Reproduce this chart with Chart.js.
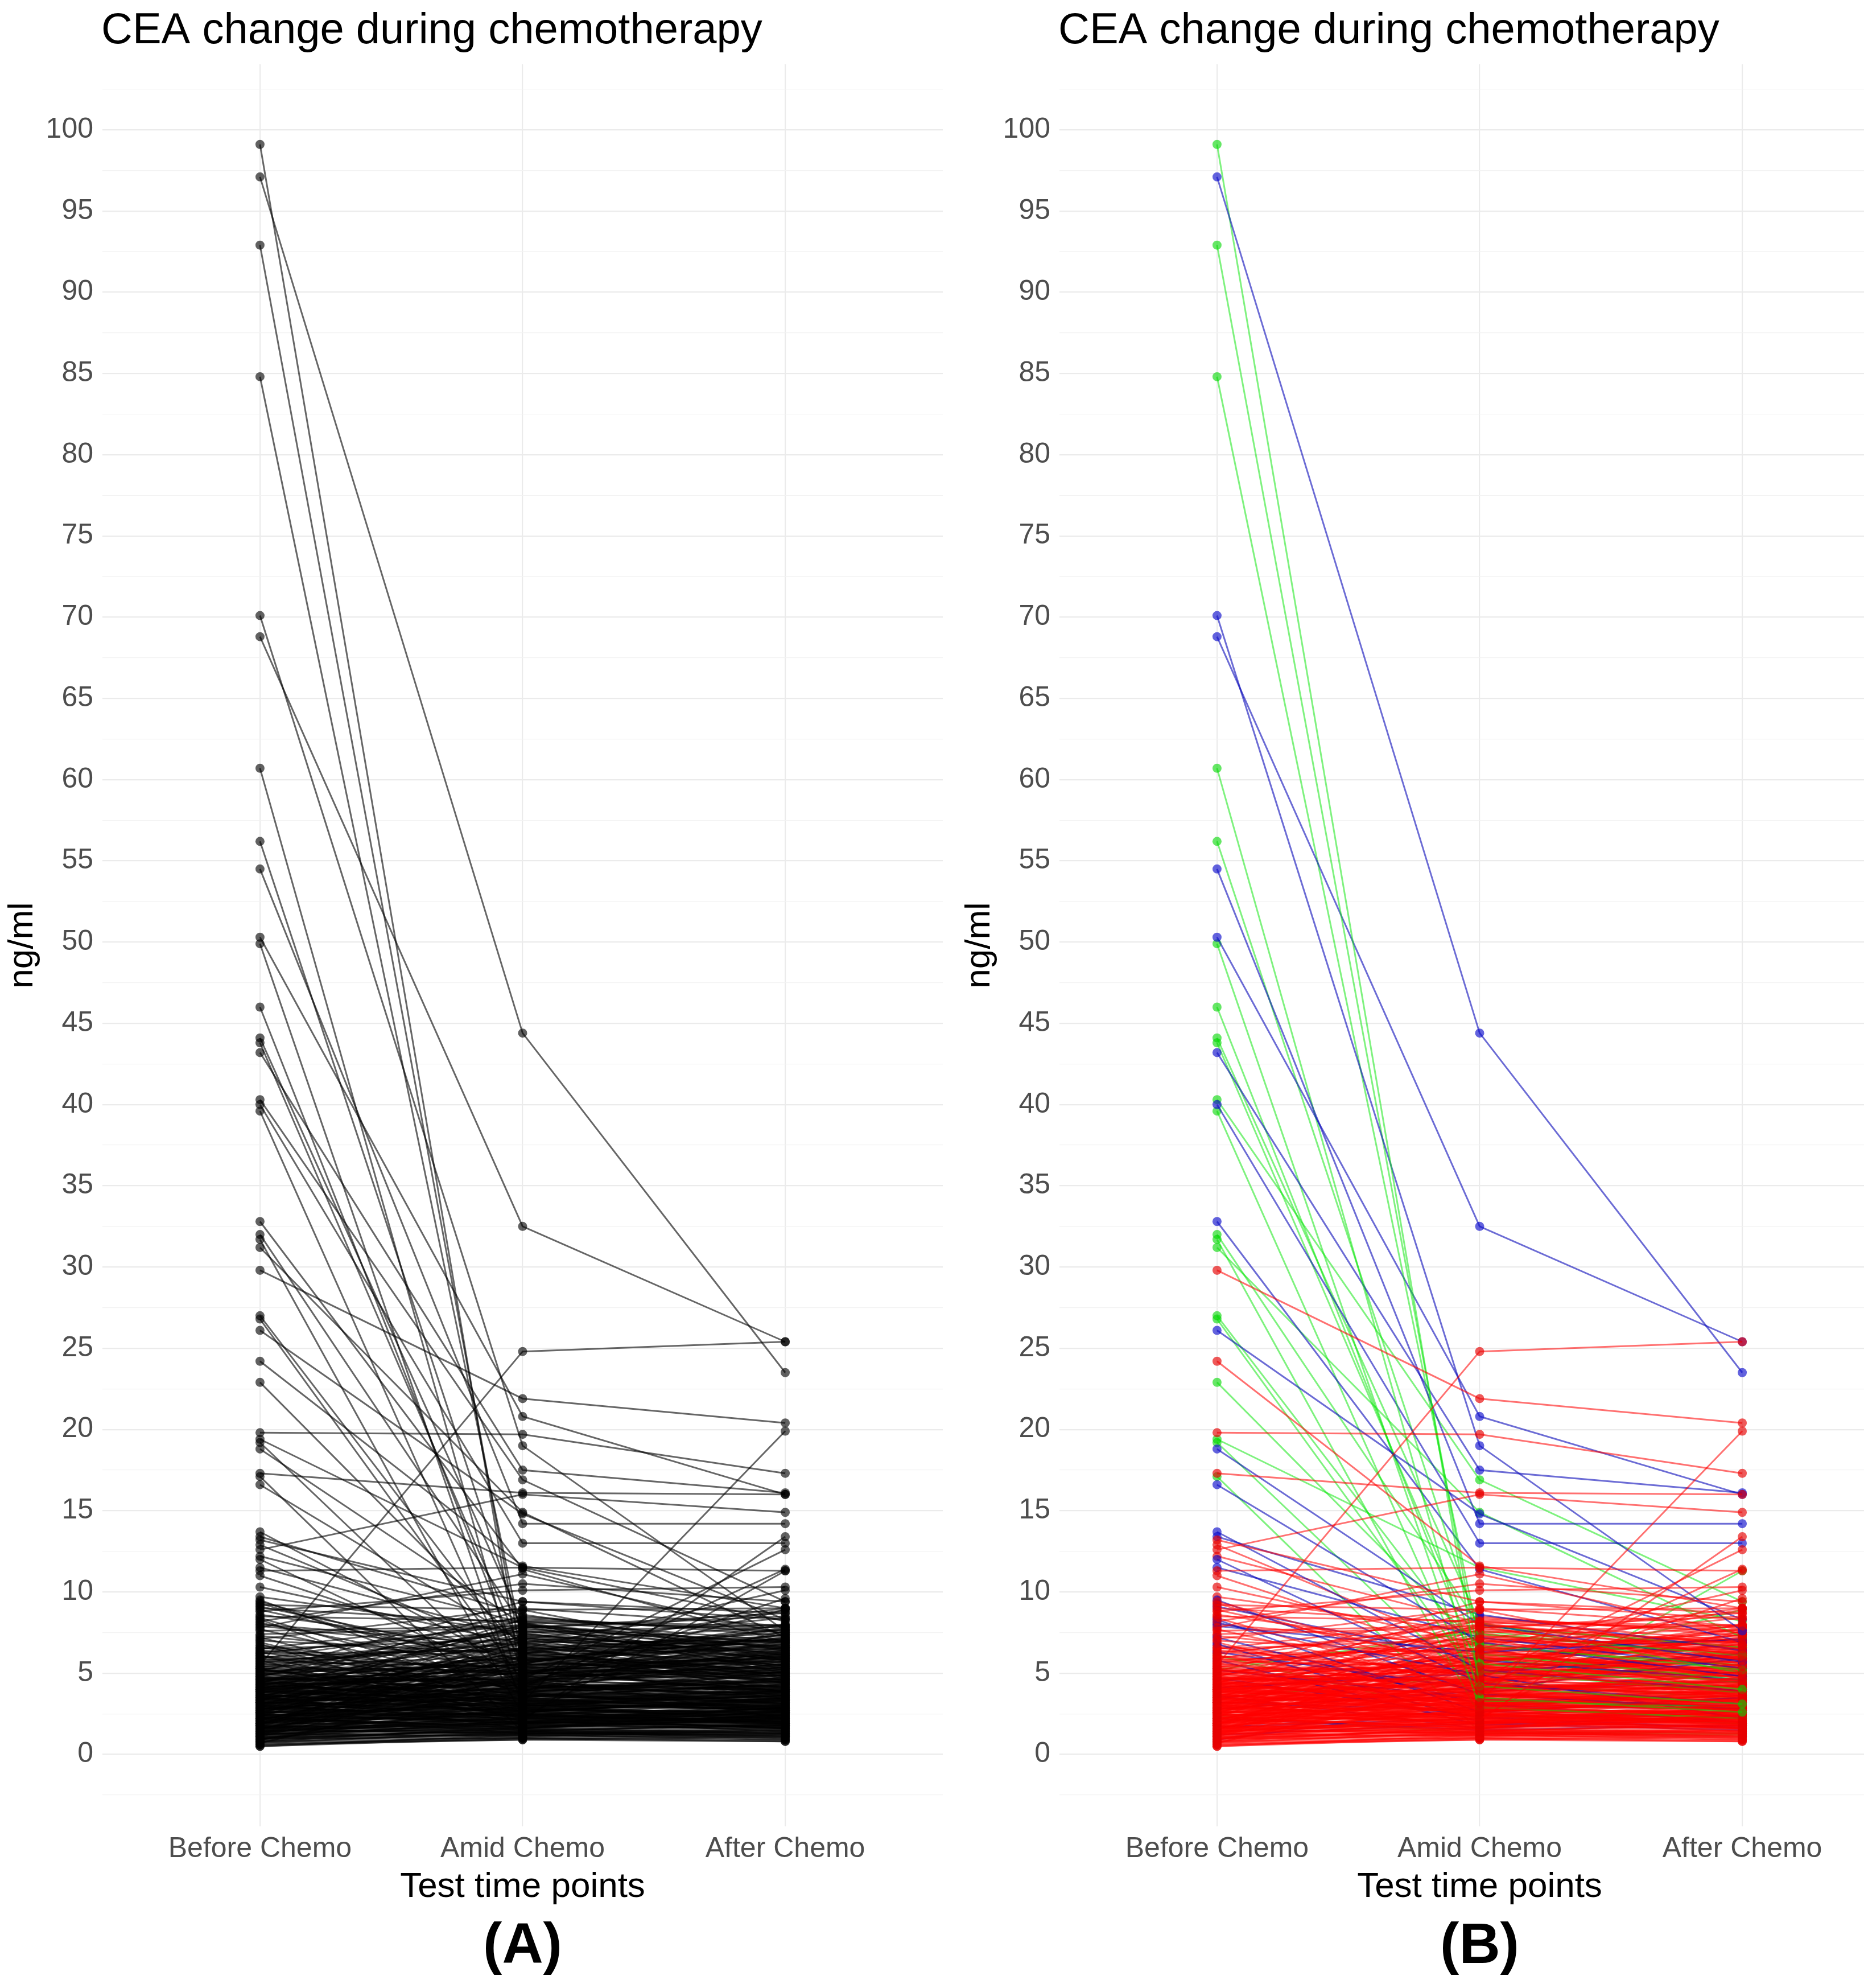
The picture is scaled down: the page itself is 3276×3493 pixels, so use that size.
<!DOCTYPE html>
<html>
<head>
<meta charset="utf-8">
<title>CEA change during chemotherapy</title>
<script src="https://cdn.jsdelivr.net/npm/chart.js@4.4.0/dist/chart.umd.min.js"></script>
<style>
  html, body { margin: 0; padding: 0; background: #fff; width: 3276px; height: 3493px; overflow: hidden; position: relative; }
  canvas { position: absolute; top: 0; }
  #panelA { left: 0; }
  #panelB { left: 1682px; }
</style>
</head>
<body>
<canvas id="panelA" width="1676" height="3493"></canvas>
<canvas id="panelB" width="1676" height="3493"></canvas>
<script>
const timePoints = ['Before Chemo', 'Amid Chemo', 'After Chemo'];

// y grid every 2.5, labels on the multiples of 5
const yTicks = [-2.5, 0, 2.5, 5, 7.5, 10, 12.5, 15, 17.5, 20, 22.5, 25, 27.5, 30, 32.5, 35, 37.5, 40,
  42.5, 45, 47.5, 50, 52.5, 55, 57.5, 60, 62.5, 65, 67.5, 70, 72.5, 75, 77.5, 80, 82.5, 85, 87.5,
  90, 92.5, 95, 97.5, 100, 102.5];

// [before, amid, after] in ng/ml, one row per patient
const greenPatients = [
  [99.1, 4.2, 3.1], [92.9, 5.6, 4.0], [84.8, 6.8, 5.2], [60.7, 3.5, 2.6], [56.2, 7.4, 6.1],
  [49.9, 2.9, 2.2], [46.0, 5.1, 3.8], [44.1, 8.1, 5.0], [43.8, 6.2, 4.6], [40.3, 16.9, 9.4],
  [39.6, 3.3, 2.9], [32.0, 7.9, 6.6], [31.7, 2.4, 1.9], [31.2, 14.9, 7.2], [27.0, 5.9, 4.4],
  [26.8, 4.5, 3.4], [22.9, 6.6, 5.5], [19.4, 11.5, 8.2], [19.2, 3.8, 2.7], [17.1, 1.4, 1.3],
  [6.1, 2.2, 11.3], [5.2, 7.6, 5.8], [3.5, 4.8, 8.9], [2.4, 1.3, 1.2]
];

const bluePatients = [
  [97.1, 44.4, 23.5], [70.1, 19.0, 7.6], [68.8, 32.5, 25.4], [54.5, 14.2, 14.2], [50.3, 20.8, 16.0],
  [43.2, 17.5, 16.1], [40.0, 13.0, 13.0], [32.8, 11.4, 6.9], [26.1, 14.8, 8.3], [18.8, 8.0, 5.7],
  [16.6, 6.9, 4.8], [13.7, 5.2, 3.9], [13.4, 8.6, 6.4], [12.0, 4.4, 3.1], [11.5, 7.2, 5.3],
  [9.5, 3.7, 2.8], [9.1, 5.8, 4.6], [8.3, 2.6, 3.5], [8.1, 4.9, 2.2], [7.9, 6.3, 7.1],
  [7.2, 3.1, 2.0], [6.8, 2.0, 1.7], [6.3, 4.0, 5.9], [5.8, 1.8, 2.4], [5.2, 3.4, 3.0],
  [4.7, 2.3, 1.6], [4.1, 5.0, 6.2], [3.6, 1.6, 2.3], [3.2, 2.7, 1.9], [2.8, 3.9, 4.5],
  [2.2, 1.5, 1.8], [1.7, 2.2, 2.6], [1.2, 1.9, 1.5], [0.9, 3.0, 2.8]
];

const redPatients = [
  [29.8, 21.9, 20.4], [24.2, 11.6, 9.0], [19.8, 19.7, 17.3], [17.3, 16.1, 16.0], [5.5, 24.8, 25.4],
  [12.6, 16.0, 14.9], [11.3, 11.5, 11.3], [2.4, 3.2, 19.9], [3.0, 2.1, 13.4], [1.9, 4.6, 12.6],
  [3.4, 4.1, 11.4], [13.2, 9.4, 8.7], [8.8, 10.1, 10.3], [9.2, 8.9, 9.0], [8.5, 8.2, 7.9],
  [7.4, 7.8, 8.5], [7.0, 6.2, 5.0], [6.5, 7.1, 6.7], [6.0, 6.5, 7.3], [5.7, 5.4, 3.6],
  [6.2, 8.0, 6.8], [5.9, 8.2, 7.0], [7.6, 7.9, 5.4], [9.0, 8.1, 6.1], [4.8, 7.8, 8.7],
  [3.9, 7.1, 9.0], [2.6, 6.2, 8.9], [5.1, 9.4, 8.3], [8.2, 10.5, 9.4], [3.3, 6.5, 10.1],
  [7.8, 11.1, 7.4], [2.1, 5.6, 8.0], [4.4, 8.9, 5.8], [6.6, 4.3, 9.6], [1.6, 3.9, 7.6],
  [9.4, 5.1, 3.9], [5.5, 6.9, 8.4], [3.0, 7.3, 6.5], [8.6, 6.4, 4.7], [7.1, 9.0, 7.9],
  [0.5, 1.0, 0.9], [0.6, 1.1, 1.3], [0.7, 0.9, 0.8], [0.8, 1.3, 1.1], [0.9, 1.2, 1.6],
  [1.0, 1.5, 1.4], [1.0, 1.0, 1.2], [1.1, 1.8, 2.1], [1.2, 1.4, 1.0], [1.2, 2.3, 2.8],
  [1.3, 1.6, 1.9], [1.3, 1.1, 1.5], [1.4, 2.0, 1.7], [1.4, 2.7, 3.3], [1.5, 1.3, 1.2],
  [1.5, 1.9, 2.4], [1.6, 2.5, 2.2], [1.6, 1.2, 0.9], [1.7, 3.1, 3.8], [1.7, 1.7, 2.0],
  [1.8, 2.2, 2.7], [1.8, 1.4, 1.3], [1.9, 2.9, 2.5], [1.9, 2.0, 3.1], [2.0, 1.5, 1.8],
  [2.0, 3.4, 4.2], [2.1, 2.4, 2.0], [2.1, 1.8, 1.6], [2.2, 2.6, 3.5], [2.2, 3.8, 2.9],
  [2.3, 1.6, 2.2], [2.3, 2.1, 1.4], [2.4, 3.0, 3.6], [2.4, 2.5, 4.8], [2.5, 1.9, 2.3],
  [2.5, 4.3, 3.9], [2.6, 2.8, 2.6], [2.6, 2.2, 1.9], [2.7, 3.5, 5.1], [2.7, 1.7, 2.1],
  [2.8, 3.2, 2.7], [2.8, 2.4, 3.0], [2.9, 4.7, 4.4], [2.9, 2.0, 1.7], [3.0, 3.6, 3.2],
  [3.0, 2.7, 2.4], [3.1, 1.8, 2.9], [3.1, 4.1, 5.6], [3.2, 3.0, 3.4], [3.2, 2.3, 2.0],
  [3.3, 3.9, 4.7], [3.3, 2.6, 2.2], [3.4, 5.2, 4.1], [3.4, 3.3, 3.8], [3.5, 2.1, 2.5],
  [3.5, 4.5, 6.3], [3.6, 3.7, 3.1], [3.6, 2.9, 2.8], [3.7, 4.0, 4.6], [3.7, 2.5, 1.8],
  [3.8, 5.6, 5.3], [3.8, 3.4, 3.9], [3.9, 2.8, 2.3], [3.9, 4.4, 4.0], [4.0, 3.1, 3.6],
  [4.0, 5.0, 6.8], [4.1, 3.8, 3.3], [4.1, 2.7, 2.6], [4.2, 4.8, 5.0], [4.2, 3.5, 4.4],
  [4.3, 2.4, 2.1], [4.3, 5.9, 5.7], [4.4, 4.2, 3.7], [4.4, 3.0, 2.9], [4.5, 5.3, 6.0],
  [4.5, 3.6, 3.2], [4.6, 4.6, 4.9], [4.6, 2.6, 3.4], [4.7, 5.7, 7.2], [4.8, 3.9, 4.2],
  [4.9, 4.3, 3.5], [5.0, 3.2, 2.7], [5.1, 5.5, 5.9], [5.2, 4.1, 4.5], [5.3, 2.9, 3.1],
  [5.4, 6.1, 6.5], [0.6, 0.9, 1.1], [0.7, 1.4, 1.8], [0.8, 1.0, 0.8], [0.9, 1.6, 2.5],
  [1.0, 2.1, 1.6], [1.1, 1.2, 1.4], [1.2, 1.9, 2.9], [1.3, 2.4, 2.0], [1.4, 1.5, 1.1],
  [1.5, 3.0, 3.7], [1.6, 2.0, 2.3], [1.7, 1.3, 1.7], [1.8, 2.7, 3.2], [1.9, 3.6, 4.3],
  [2.0, 2.3, 1.9], [2.1, 2.9, 3.9], [2.2, 1.7, 2.4], [2.3, 3.3, 2.8], [2.4, 2.0, 2.6],
  [2.5, 3.7, 4.6], [2.6, 2.4, 3.3], [2.7, 4.2, 3.0], [2.8, 1.9, 2.2], [2.9, 3.5, 5.4],
  [3.0, 2.2, 1.8], [3.1, 4.6, 4.1], [3.2, 2.8, 3.5], [3.3, 3.4, 2.9], [3.4, 2.3, 2.7],
  [3.5, 4.9, 5.8], [3.6, 3.1, 3.7], [3.7, 2.6, 2.4], [3.8, 4.4, 6.1], [3.9, 3.3, 3.0],
  [4.0, 2.5, 2.8], [4.1, 5.4, 4.8], [4.2, 3.9, 3.4], [4.3, 4.7, 5.5], [4.4, 3.2, 4.1],
  [4.5, 2.8, 2.5], [4.6, 5.8, 6.6], [4.7, 4.0, 3.8], [4.8, 3.5, 4.3], [4.9, 6.0, 7.0],
  [5.0, 4.4, 5.1], [5.2, 3.7, 3.3], [5.4, 5.1, 6.2], [5.6, 4.2, 4.0], [5.8, 6.4, 7.5],
  [6.1, 3.6, 3.9], [6.4, 5.0, 4.6], [6.7, 4.8, 5.2], [6.9, 3.0, 3.6], [7.3, 5.6, 7.7],
  [7.7, 4.1, 4.4], [8.0, 6.7, 6.0], [8.4, 3.8, 4.9], [8.9, 5.4, 7.4], [9.3, 4.6, 5.5],
  [9.7, 7.5, 8.0], [10.3, 6.8, 6.3], [11.0, 5.7, 5.0], [12.2, 8.1, 7.8], [12.9, 6.2, 6.9],
  [0.5, 1.2, 1.0], [0.8, 1.7, 2.2], [1.1, 1.4, 1.9], [1.4, 2.2, 1.6], [1.7, 1.9, 2.6],
  [2.0, 2.6, 3.4], [2.3, 1.6, 1.3], [2.6, 3.1, 4.0], [2.9, 2.4, 2.1], [3.2, 3.8, 4.5],
  [3.5, 2.7, 3.3], [3.8, 4.3, 3.6], [4.1, 3.1, 2.8], [4.4, 5.0, 5.3], [4.7, 3.4, 3.9],
  [5.0, 5.5, 6.4], [5.3, 4.5, 4.2], [1.0, 1.3, 1.5], [1.3, 2.8, 2.4], [1.6, 1.6, 2.7],
  [1.9, 2.5, 2.0], [2.2, 3.2, 3.8], [2.5, 2.0, 2.9], [2.8, 4.0, 4.9], [3.1, 2.5, 2.3],
  [3.4, 3.6, 4.3], [3.7, 3.0, 3.0], [4.0, 4.5, 5.2], [4.3, 3.3, 3.6], [4.6, 5.2, 5.7],
  [1.2, 5.3, 4.6], [1.5, 6.1, 5.2], [1.8, 7.0, 6.4], [2.1, 5.8, 7.1], [2.4, 6.6, 5.5],
  [2.7, 7.7, 6.9], [3.0, 5.1, 6.0], [3.3, 8.3, 7.6], [3.6, 6.3, 5.1], [3.9, 5.6, 7.8],
  [4.2, 7.4, 6.2], [4.5, 6.0, 4.9], [4.8, 8.5, 7.3], [5.1, 5.9, 6.7], [5.4, 7.2, 5.6],
  [5.7, 6.8, 7.9], [6.0, 5.3, 6.1], [6.3, 7.6, 6.6], [1.1, 4.8, 5.9], [1.4, 5.7, 6.8],
  [1.7, 6.5, 4.4], [2.0, 4.9, 7.4], [2.3, 7.3, 5.8], [2.6, 5.4, 6.3], [2.9, 6.9, 7.0],
  [3.2, 4.7, 5.4], [3.5, 8.0, 6.5], [3.8, 6.2, 7.7], [4.1, 5.2, 5.0], [4.4, 7.9, 6.9],
  [4.7, 4.6, 6.4], [5.0, 6.7, 4.7], [5.3, 5.0, 7.2], [5.6, 7.5, 5.3], [5.9, 4.9, 6.0],
  [6.2, 6.4, 7.1], [6.5, 8.4, 7.5], [0.7, 4.4, 3.9], [0.9, 3.8, 5.1], [1.3, 5.5, 3.4],
  [1.6, 4.2, 6.6], [1.9, 6.0, 4.1], [2.2, 4.5, 5.7], [2.5, 7.1, 4.8], [2.8, 3.9, 6.2],
  [3.1, 6.6, 3.8], [3.4, 5.8, 5.5], [3.7, 4.3, 7.0], [4.0, 7.8, 5.9], [4.3, 5.6, 4.5]
];

const panelStyles = {
  A: {
    green: { line: 'rgba(0,0,0,0.6)', point: 'rgba(0,0,0,0.62)' },
    blue: { line: 'rgba(0,0,0,0.6)', point: 'rgba(0,0,0,0.62)' },
    red: { line: 'rgba(0,0,0,0.6)', point: 'rgba(0,0,0,0.62)' }
  },
  B: {
    green: { line: 'rgba(0,230,0,0.5)', point: 'rgba(0,215,0,0.6)' },
    blue: { line: 'rgba(10,10,185,0.6)', point: 'rgba(15,15,205,0.65)' },
    red: { line: 'rgba(255,0,0,0.56)', point: 'rgba(230,0,0,0.65)' }
  }
};

// mix the groups so the drawing order is not one colour after another
function mixedPatients() {
  const out = [];
  let b = 0, g = 0;
  redPatients.forEach((row, i) => {
    out.push({ group: 'red', values: row });
    while (b < Math.floor((i + 1) * bluePatients.length / redPatients.length)) {
      out.push({ group: 'blue', values: bluePatients[b++] });
    }
    while (g < Math.floor((i + 1) * greenPatients.length / redPatients.length)) {
      out.push({ group: 'green', values: greenPatients[g++] });
    }
  });
  return out;
}

const panelText = {
  id: 'panelText',
  afterDraw(chart, args, opts) {
    const { ctx, chartArea } = chart;
    ctx.save();
    ctx.fillStyle = '#000';
    ctx.textBaseline = 'alphabetic';
    ctx.textAlign = 'left';
    ctx.font = '76px "Liberation Sans", Arial, sans-serif';
    ctx.fillText('CEA change during chemotherapy', 178, 76);
    ctx.textAlign = 'center';
    ctx.font = 'bold 100px "Liberation Sans", Arial, sans-serif';
    ctx.fillText(opts.tag, (chartArea.left + chartArea.right) / 2, 3449);
    ctx.restore();
  }
};

Chart.defaults.font.family = '"Liberation Sans", Arial, sans-serif';

function makeChart(id, styles, tag) {
  const datasets = mixedPatients().map(p => ({
    data: p.values.map((v, i) => ({ x: i + 1, y: v })),
    borderColor: styles[p.group].line,
    borderWidth: 3,
    pointBackgroundColor: styles[p.group].point,
    pointBorderWidth: 0,
    pointRadius: 8,
    pointHoverRadius: 8,
    tension: 0
  }));

  return new Chart(document.getElementById(id), {
    type: 'line',
    data: { datasets },
    options: {
      responsive: false,
      animation: false,
      devicePixelRatio: 1,
      events: [],
      layout: { padding: { top: 113, right: 19, left: 0, bottom: 0 } },
      plugins: {
        legend: { display: false },
        tooltip: { enabled: false },
        panelText: { tag }
      },
      scales: {
        x: {
          type: 'linear',
          min: 0.4,
          max: 3.6,
          afterBuildTicks: s => { s.ticks = [1, 2, 3].map(v => ({ value: v })); },
          afterFit: s => { s.height = 284; },
          grid: { color: '#EBEBEB', lineWidth: 2.2, drawTicks: false },
          border: { display: false },
          ticks: {
            autoSkip: false,
            maxRotation: 0,
            padding: 10,
            color: '#4D4D4D',
            font: { size: 50 },
            callback: (v, i) => timePoints[i]
          },
          title: {
            display: true,
            text: 'Test time points',
            color: '#000',
            font: { size: 62 },
            padding: { top: 0, bottom: 140 }
          }
        },
        y: {
          type: 'linear',
          min: -4.43,
          max: 104.03,
          afterBuildTicks: s => { s.ticks = yTicks.map(v => ({ value: v })); },
          afterFit: s => { s.width = 180; },
          grid: {
            drawTicks: false,
            color: c => (c.tick && c.tick.value % 5 === 0) ? '#EBEBEB' : '#F2F2F2',
            lineWidth: c => (c.tick && c.tick.value % 5 === 0) ? 2.2 : 1.3
          },
          border: { display: false },
          ticks: {
            autoSkip: false,
            padding: 16,
            color: '#4D4D4D',
            font: { size: 50 },
            callback: v => (v % 5 === 0 && v >= 0 && v <= 100) ? String(v) : ''
          },
          title: {
            display: true,
            text: 'ng/ml',
            color: '#000',
            font: { size: 62 },
            padding: { top: 3, bottom: 0 }
          }
        }
      }
    },
    plugins: [panelText]
  });
}

makeChart('panelA', panelStyles.A, '(A)');
makeChart('panelB', panelStyles.B, '(B)');
</script>
</body>
</html>
